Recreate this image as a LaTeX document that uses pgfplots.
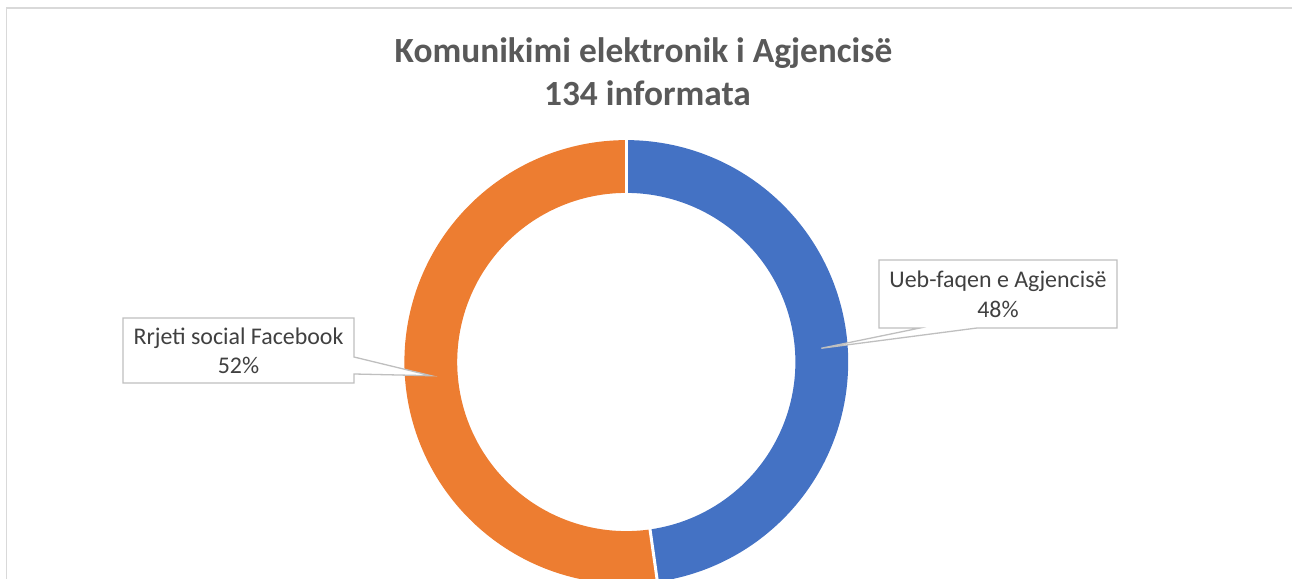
\documentclass[border=0pt]{standalone}
\usepackage{pgfplots}
\pgfplotsset{compat=1.18}
\usepackage{pgfplotstable}
\usepgfplotslibrary{polar}
\usepackage{fontspec}
\setmainfont{Carlito}
\definecolor{cblue}{HTML}{4472C4}
\definecolor{corange}{HTML}{ED7D31}
\definecolor{ctitle}{HTML}{595959}
\definecolor{ctext}{HTML}{404040}
\definecolor{cframe}{HTML}{D9D9D9}
\definecolor{ccall}{HTML}{BFBFBF}

\pgfplotstableread{
label value
Ueb 64
Facebook 70
}\datatable

\begin{document}
\begin{tikzpicture}[x=1bp,y=1bp]
\pgfplotstablegetelem{0}{value}\of\datatable \let\va\pgfplotsretval
\pgfplotstablegetelem{1}{value}\of\datatable \let\vb\pgfplotsretval
\pgfmathsetmacro\tot{\va+\vb}
\pgfmathsetmacro\frac{\va/\tot}
\pgfmathsetmacro\aA{90}
\pgfmathsetmacro\aB{90-360*\frac}
\pgfmathsetmacro\aC{90-360}
\pgfmathsetmacro\mA{(\aA+\aB)/2}
\pgfmathsetmacro\mB{(\aB+\aC)/2}

\useasboundingbox (0,0) rectangle (1292,-579);
\draw[cframe, line width=1.5] (6.5,-600) -- (6.5,-8) -- (1300,-8);

\node[font=\fontsize{35.5}{43}\selectfont\bfseries, text=ctitle, anchor=base] at (643.5,-63) {Komunikimi elektronik i Agjencisë};
\node[font=\fontsize{35.5}{43}\selectfont\bfseries, text=ctitle, anchor=base] at (647.5,-106) {134 informata};

\begin{polaraxis}[hide axis, scale only axis, width=460bp, height=460bp,
  ymin=0, ymax=230, at={(626.3,-362)}, anchor=center, clip=false]
\addplot[cblue, line width=52.8bp, domain=\aB:\aA, samples=160] {195.5};
\addplot[corange, line width=52.8bp, domain=\aC:\aB, samples=160] {195.5};
\addplot[white, line width=3bp] coordinates {(\aA,160) (\aA,230)};
\addplot[white, line width=3bp] coordinates {(\aB,160) (\aB,230)};
\coordinate (tipA) at (axis cs:\mA,195.5);
\coordinate (tipB) at (axis cs:\mB,195.5);
\end{polaraxis}

\filldraw[fill=white, draw=ccall, line width=1.3] (123,-318) -- (354,-318) -- (354,-357) -- (tipB) -- (354,-374) -- (354,-383) -- (123,-383) -- cycle;
\node[font=\fontsize{24}{29}\selectfont, text=ctext, anchor=base] at (238.5,-345) {Rrjeti social Facebook};
\node[font=\fontsize{24}{29}\selectfont, text=ctext, anchor=base] at (238.5,-374) {52\%};

\filldraw[fill=white, draw=ccall, line width=1.3] (879,-260) -- (1117,-260) -- (1117,-328) -- (977,-328) -- (tipA) -- (920,-328) -- (879,-328) -- cycle;
\node[font=\fontsize{24}{29}\selectfont, text=ctext, anchor=base] at (998,-288) {Ueb-faqen e Agjencisë};
\node[font=\fontsize{24}{29}\selectfont, text=ctext, anchor=base] at (998,-318) {48\%};
\end{tikzpicture}
\end{document}
